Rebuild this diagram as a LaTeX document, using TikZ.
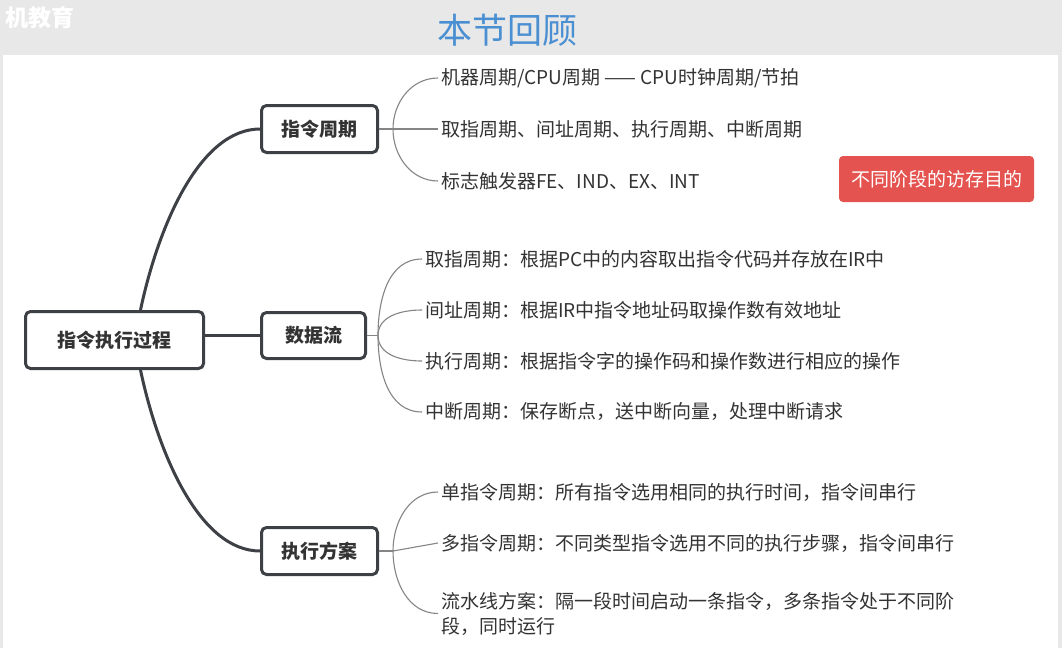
\documentclass[tikz,border=0pt]{standalone}
\usepackage{fontspec}
\setmainfont{Noto Sans CJK SC}

\definecolor{boxline}{HTML}{3D4045}
\definecolor{textdark}{HTML}{333333}
\definecolor{twiggray}{HTML}{858585}
\definecolor{bandgray}{HTML}{E8E8E8}
\definecolor{titleblue}{HTML}{4A8FD2}
\definecolor{notered}{HTML}{E4534F}

\tikzset{
  topic/.style={draw=boxline,line width=3pt,rounded corners=5pt,fill=white,
    inner sep=0pt,text=textdark,font=\bfseries\fontsize{19}{22}\selectfont},
  leaf/.style={anchor=west,inner xsep=3pt,inner ysep=0pt,align=left,
    text=textdark,font=\fontsize{19}{25}\selectfont},
  trunk/.style={draw=boxline,line width=3pt},
  twig/.style={draw=twiggray,line width=1.1pt},
}

\begin{document}
\begin{tikzpicture}[x=1pt,y=-1pt]
   \useasboundingbox (0,0) rectangle (1062,648);
   \fill[bandgray] (0,0) rectangle (1062,648);
   \fill[white] (3,55) rectangle (1058,648);
   \node[text=white,font=\bfseries\fontsize{23}{26}\selectfont] (mark) at (40,18) {机教育};
   \node[text=titleblue,font=\fontsize{35}{40}\selectfont] (title) at (507,30) {本节回顾};

   % topics
   \node[topic,minimum width=178pt,minimum height=57pt] (root) at (114.5,340) {指令执行过程};
   \node[topic,minimum width=116pt,minimum height=47pt] (zq) at (319.5,129) {指令周期};
   \node[topic,minimum width=104pt,minimum height=46pt] (sj) at (313.5,335.5) {数据流};
   \node[topic,minimum width=116pt,minimum height=47pt] (fa) at (319.5,551) {执行方案};

   \draw[trunk] ([xshift=26pt]root.north) .. controls +(18,-85) and +(-60,0) .. (zq.west);
   \draw[trunk] (root.east |- sj.west) -- (sj.west);
   \draw[trunk] ([xshift=26pt]root.south) .. controls +(18,85) and +(-60,0) .. (fa.west);

   % leaves
   \node[leaf] (zq1) at (438,78) {机器周期/CPU周期 —— CPU时钟周期/节拍};
   \node[leaf] (zq2) at (438,129) {取指周期、间址周期、执行周期、中断周期};
   \node[leaf] (zq3) at (438,181) {标志触发器FE、IND、EX、INT};

   \node[leaf] (sj1) at (422,259) {取指周期：根据PC中的内容取出指令代码并存放在IR中};
   \node[leaf] (sj2) at (422,310) {间址周期：根据IR中指令地址码取操作数有效地址};
   \node[leaf] (sj3) at (422,361) {执行周期：根据指令字的操作码和操作数进行相应的操作};
   \node[leaf] (sj4) at (422,412) {中断周期：保存断点，送中断向量，处理中断请求};

   \node[leaf] (fa1) at (438,492) {单指令周期：所有指令选用相同的执行时间，指令间串行};
   \node[leaf] (fa2) at (438,543) {多指令周期：不同类型指令选用不同的执行步骤，指令间串行};
   \node[leaf] (fa3) at (438,613.5) {流水线方案：隔一段时间启动一条指令，多条指令处于不同阶\\段，同时运行};

   \node[fill=notered,rounded corners=4pt,minimum width=195pt,minimum height=46pt,inner sep=0pt,
     text=white,font=\fontsize{19}{22}\selectfont] (note) at (936.5,179) {不同阶段的访存目的};

   % twigs
   \coordinate (zqj) at (393,129);
   \coordinate (sjj) at (378,335.5);
   \coordinate (faj) at (393,551);
   \draw[twig] (zq.east) -- (zqj);
   \draw[twig] (sj.east) -- (sjj);
   \draw[twig] (fa.east) -- (faj);
   \draw[twig] (zqj) -- (zq2.west);
   \foreach \l/\o in {zq1/90,zq3/-90}
     \draw[twig] (zqj) to[out=\o,in=180] (\l.west);
   \foreach \l/\o in {sj1/90,sj2/90,sj3/-90,sj4/-90}
     \draw[twig] (sjj) to[out=\o,in=180] (\l.west);
   \foreach \l/\o in {fa1/90,fa3/-90}
     \draw[twig] (faj) to[out=\o,in=180] (\l.west);
   \draw[twig] (faj) -- (fa2.west);
\end{tikzpicture}
\end{document}
